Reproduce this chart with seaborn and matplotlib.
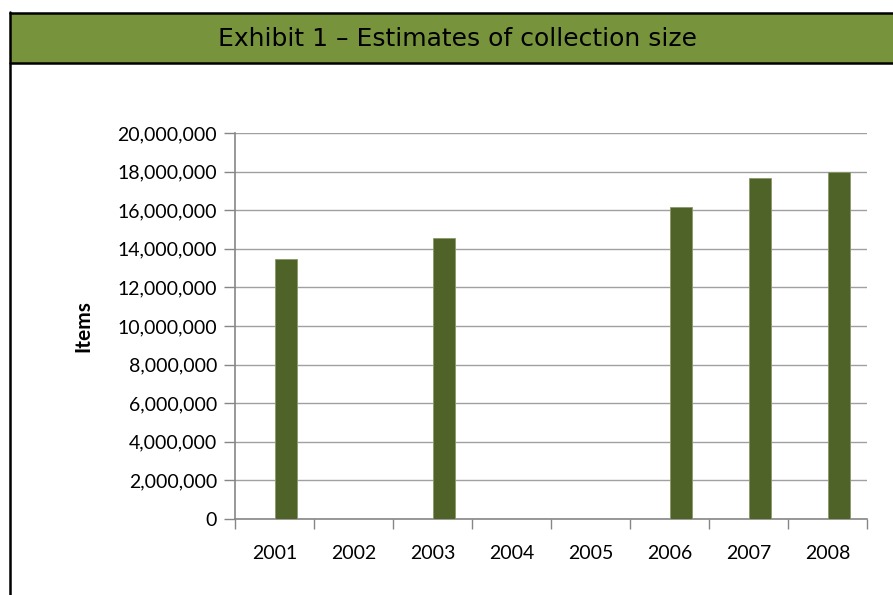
import matplotlib
matplotlib.use("Agg")
import matplotlib.pyplot as plt
import seaborn as sns
import pandas as pd
from matplotlib.ticker import FuncFormatter, MultipleLocator, FixedLocator
from matplotlib.patches import Rectangle
from matplotlib.lines import Line2D

# ---- data ----
years = ["2001", "2002", "2003", "2004", "2005", "2006", "2007", "2008"]
data_years = ["2001", "2003", "2006", "2007", "2008"]
items = [13450000, 14550000, 16150000, 17680000, 17970000]
title = "Exhibit 1 \u2013 Estimates of collection size"
ylabel = "Items"

sns.set_theme(style="white")
plt.rcParams["font.family"] = ["Lato", "DejaVu Sans"]

W, H = 893, 595
fig = plt.figure(figsize=(W / 100, H / 100), dpi=100)

# header band
fig.patches.append(Rectangle((10 / W, 1 - 63 / H), 1 - 10 / W, 50 / H,
                             transform=fig.transFigure, facecolor="#77933C",
                             edgecolor="none", zorder=0))
for y in (13, 63):
    fig.add_artist(Line2D([10 / W, 1], [1 - y / H, 1 - y / H],
                          transform=fig.transFigure, color="black", lw=1.8))
fig.add_artist(Line2D([10 / W, 10 / W], [1 - 12 / H, 0],
                      transform=fig.transFigure, color="black", lw=1.8))
fig.text(458 / W, 1 - 39 / H, title, ha="center", va="center",
         fontsize=18, color="black", family=["DejaVu Sans"])

ax = fig.add_axes([235 / W, 1 - 519 / H, (867 - 235) / W, (519 - 133) / H])
df = pd.DataFrame({"Year": data_years, "Items": items})
sns.barplot(data=df, x="Year", y="Items", order=years, color="#4F6228",
            saturation=1, width=0.285, ax=ax, edgecolor="#8a9a6a", linewidth=0.6,
            zorder=3)
# Excel-style clustered position: bar sits just right of the category centre
for p in ax.patches:
    p.set_x(p.get_x() + p.get_width() / 2)

ax.set_ylim(0, 20000000)
ax.set_xlim(-0.5, len(years) - 0.5)
ax.yaxis.set_major_locator(MultipleLocator(2000000))
ax.yaxis.set_major_formatter(FuncFormatter(lambda v, p: f"{int(v):,}"))
ax.grid(axis="y", color="#A0A0A0", linewidth=1.0, zorder=0)
ax.set_axisbelow(True)

for s in ("top", "right"):
    ax.spines[s].set_visible(False)
for s in ("left", "bottom"):
    ax.spines[s].set_color("#868686")
    ax.spines[s].set_linewidth(1.2)

ax.tick_params(axis="y", which="major", left=True, length=8, width=1,
               color="#868686", labelsize=14, labelcolor="black", pad=5)
ax.tick_params(axis="x", which="major", length=0, labelsize=14,
               labelcolor="black", pad=19)
ax.xaxis.set_minor_locator(FixedLocator([i - 0.5 for i in range(len(years) + 1)]))
ax.tick_params(axis="x", which="minor", bottom=True, length=7, width=1,
               color="#868686")

ax.set_xlabel("")
ax.set_ylabel(ylabel, fontsize=15, fontweight="bold", color="black")
ax.yaxis.set_label_coords(-0.224, 0.5)

fig.savefig("out.png", dpi=100)
